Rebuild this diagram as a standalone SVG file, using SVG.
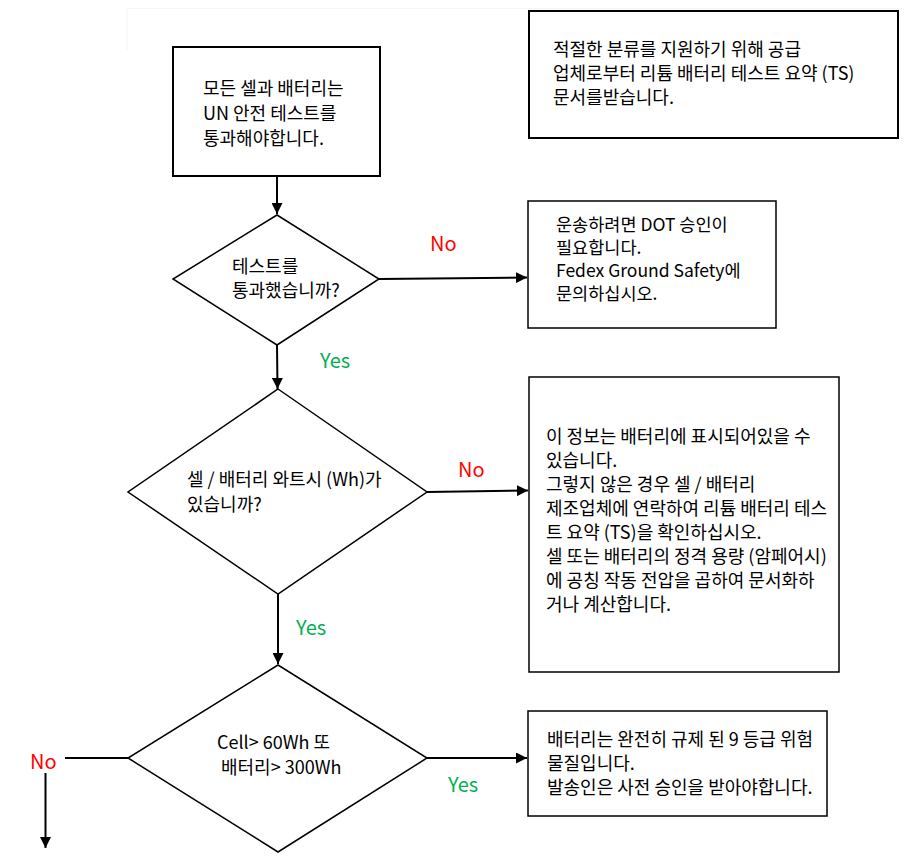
<svg xmlns="http://www.w3.org/2000/svg" width="911" height="860" viewBox="0 0 911 860">
<style>
text{font-family:"Noto Sans CJK KR","Noto Sans",sans-serif;font-size:18px;fill:#000}
.box{fill:#fff;stroke:#000;stroke-width:1.5}
.thick{stroke-width:2}
.dia{fill:#fff;stroke:#000;stroke-width:1.5}
.con{fill:none;stroke:#000;stroke-width:2}
.no{fill:#ff0000;font-size:20px}
.yes{fill:#00b050;font-size:20px}
.sm{font-size:17.5px}
</style>
<defs>
<marker id="ah" viewBox="0 0 10 10" refX="10" refY="5" markerWidth="5.5" markerHeight="5.5" orient="auto" markerUnits="strokeWidth">
<path d="M0,0 L10,5 L0,10 z" fill="#000"/>
</marker>
</defs>
<rect width="911" height="860" fill="#fff"/>
<path d="M127,50 V8.5 H905" fill="none" stroke="#f5f5f5" stroke-width="1"/>
<g id="connectors">
<path class="con" d="M277,176 V214" marker-end="url(#ah)"/>
<path class="con" d="M379,279 L527,277.5" marker-end="url(#ah)"/>
<path class="con" d="M277,345 L277.5,389" marker-end="url(#ah)"/>
<path class="con" d="M427,492 L528,490.5" marker-end="url(#ah)"/>
<path class="con" d="M278,594 V664" marker-end="url(#ah)"/>
<path class="con" d="M427,758 H527" marker-end="url(#ah)"/>
<path class="con" d="M128,758 H65"/>
<path class="con" d="M45.5,773 V848" marker-end="url(#ah)"/>
<text class="no" x="430" y="251">No</text>
<text class="yes" x="320" y="368">Yes</text>
<text class="no" x="458" y="477">No</text>
<text class="yes" x="296" y="635">Yes</text>
<text class="yes" x="448" y="792">Yes</text>
<text class="no" x="30" y="769">No</text>
</g>
<g id="start">
<rect class="box thick" x="173" y="47" width="207" height="129"/>
<text x="203" y="95">모든 셀과 배터리는</text>
<text x="203" y="120">UN 안전 테스트를</text>
<text x="203" y="145">통과해야합니다.</text>
</g>
<g id="note">
<rect class="box thick" x="529" y="11" width="369" height="127"/>
<text x="553" y="56">적절한 분류를 지원하기 위해 공급</text>
<text x="553" y="80">업체로부터 리튬 배터리 테스트 요약 (TS)</text>
<text x="553" y="104">문서를받습니다.</text>
</g>
<g id="q1">
<polygon class="dia" points="277,215 379,279 277,345 173,279"/>
<text x="232" y="273">테스트를</text>
<text x="232" y="297">통과했습니까?</text>
</g>
<g id="dot">
<rect class="box" x="528" y="201" width="248" height="127"/>
<text class="sm" x="556" y="231">운송하려면 DOT 승인이</text>
<text class="sm" x="556" y="254">필요합니다.</text>
<text class="sm" x="556" y="277">Fedex Ground Safety에</text>
<text class="sm" x="556" y="300">문의하십시오.</text>
</g>
<g id="q2">
<polygon class="dia" points="278,389 427,492 278,594 128,492"/>
<text x="187" y="486">셀 / 배터리 와트시 (Wh)가</text>
<text x="187" y="511">있습니까?</text>
</g>
<g id="info">
<rect class="box" x="529" y="377" width="310" height="295"/>
<text x="546" y="443">이 정보는 배터리에 표시되어있을 수</text>
<text x="546" y="467">있습니다.</text>
<text x="546" y="491">그렇지 않은 경우 셀 / 배터리</text>
<text x="546" y="515">제조업체에 연락하여 리튬 배터리 테스</text>
<text x="546" y="539">트 요약 (TS)을 확인하십시오.</text>
<text x="546" y="563">셀 또는 배터리의 정격 용량 (암페어시)</text>
<text x="546" y="587">에 공칭 작동 전압을 곱하여 문서화하</text>
<text x="546" y="611">거나 계산합니다.</text>
</g>
<g id="q3">
<polygon class="dia" points="278,665 427,758 278,852 128,758"/>
<text x="217" y="749">Cell&gt; 60Wh 또</text>
<text x="221" y="774">배터리&gt; 300Wh</text>
</g>
<g id="class9">
<rect class="box" x="528" y="711" width="299" height="105"/>
<text x="547" y="746">배터리는 완전히 규제 된 9 등급 위험</text>
<text x="547" y="770">물질입니다.</text>
<text x="547" y="794">발송인은 사전 승인을 받아야합니다.</text>
</g>
</svg>
